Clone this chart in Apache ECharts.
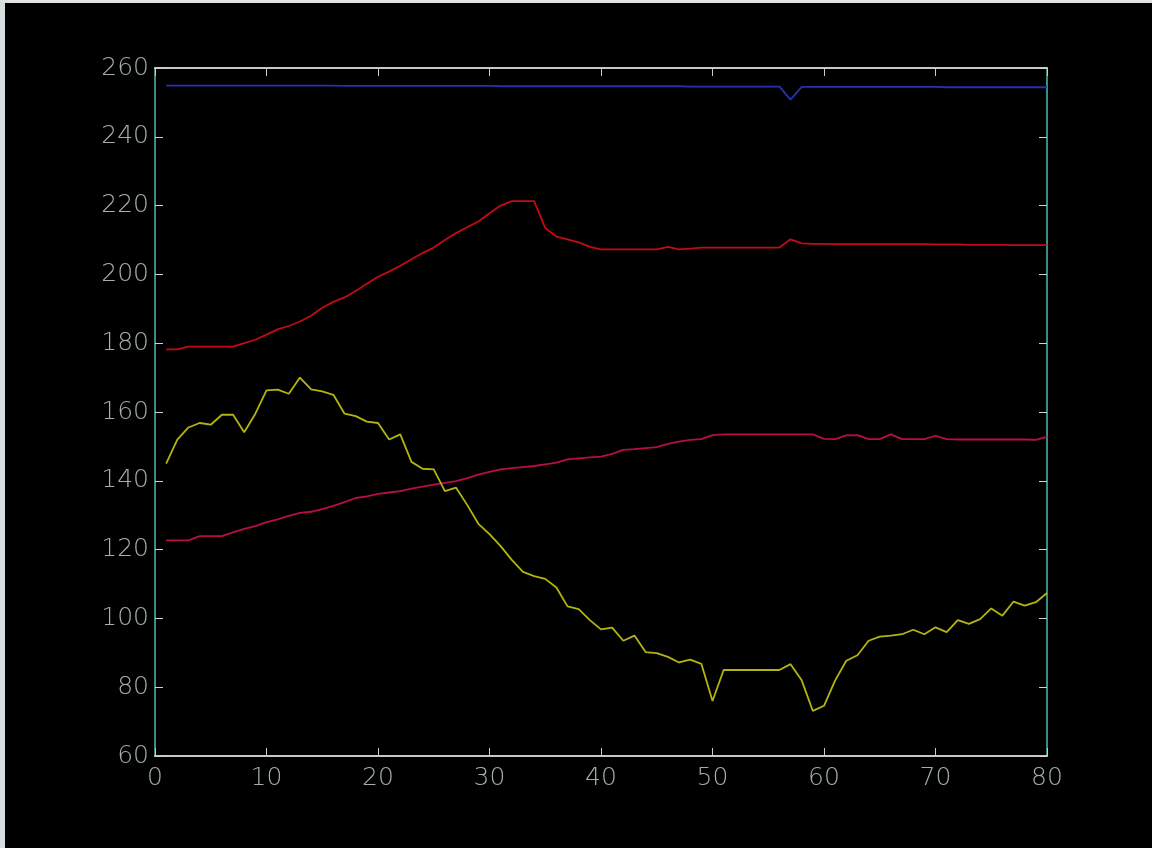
<!DOCTYPE html>
<html>
<head>
<meta charset="utf-8">
<script src="https://cdn.jsdelivr.net/npm/echarts@6/dist/echarts.min.js"></script>
<style>
html,body{margin:0;padding:0;background:#dfe2e4;width:1152px;height:848px;overflow:hidden;}
#c{position:absolute;left:0;top:0;width:1147px;height:845px;border-left:5px solid #d8dde0;border-top:3px solid #e2e2e2;background:#000;}
</style>
</head>
<body>
<div id="c"></div>
<script>
var xs = [1,2,3,4,5,6,7,8,9,10,11,12,13,14,15,16,17,18,19,20,21,22,23,24,25,26,27,28,29,30,31,32,33,34,35,36,37,38,39,40,41,42,43,44,45,46,47,48,49,50,51,52,53,54,55,56,57,58,59,60,61,62,63,64,65,66,67,68,69,70,71,72,73,74,75,76,77,78,79,80];

var blueVals = [254.9,254.9,254.9,254.9,254.9,254.9,254.9,254.9,254.9,254.9,254.9,254.9,254.9,254.9,254.9,254.9,254.8,254.8,254.8,254.8,
254.8,254.8,254.8,254.8,254.8,254.8,254.8,254.8,254.8,254.8,254.7,254.7,254.7,254.7,254.7,254.7,254.7,254.7,254.7,254.7,
254.7,254.7,254.7,254.7,254.7,254.7,254.7,254.6,254.6,254.6,254.6,254.6,254.6,254.6,254.6,254.6,250.8,254.5,254.5,254.5,
254.5,254.5,254.5,254.5,254.5,254.5,254.5,254.5,254.5,254.5,254.4,254.4,254.4,254.4,254.4,254.4,254.4,254.4,254.4,254.4];

var redUpperVals = [178.2,178.2,179,179,179,179,179,180,181,182.5,
184,185,186.3,188,190.3,192,193.3,195.2,197.3,199.3,
200.8,202.5,204.4,206.2,207.8,210,212,213.7,215.4,217.8,
220,221.3,221.3,221.3,213.5,211,210.2,209.3,208,207.3,
207.3,207.3,207.3,207.3,207.3,208,207.3,207.5,207.8,207.8,
207.8,207.8,207.8,207.8,207.8,207.8,210.2,209,208.9,208.9,
208.8,208.8,208.8,208.8,208.8,208.8,208.8,208.8,208.8,208.7,
208.7,208.7,208.6,208.6,208.6,208.6,208.5,208.5,208.5,208.5];

var redLowerVals = [122.7,122.7,122.7,123.9,123.9,123.9,125,126,126.8,128,
128.8,129.8,130.7,131,131.8,132.7,133.8,135,135.5,136.2,
136.6,137,137.7,138.3,138.9,139.4,139.9,140.8,141.8,142.6,
143.3,143.7,144,144.3,144.8,145.3,146.2,146.5,146.8,147,
147.8,149,149.2,149.5,149.8,150.7,151.4,151.9,152.1,153.3,
153.5,153.5,153.5,153.5,153.5,153.5,153.5,153.5,153.5,152.2,
152.1,153.2,153.3,152.1,152.1,153.5,152.1,152.1,152.1,153.1,
152.1,152,152,152,152,152,152,152,151.9,152.8];

var yellowVals = [145,152,155.5,156.8,156.3,159.2,159.2,154.1,159.5,166.3,
166.5,165.3,170,166.6,166,165,159.5,158.8,157.2,156.8,
152,153.5,145.5,143.5,143.3,137,138,133,127.5,124.5,
121,117,113.5,112.3,111.5,109,103.5,102.7,99.5,96.8,
97.3,93.5,95,90.2,89.9,88.8,87.2,88,86.8,76,
85,85,85,85,85,85,86.7,82,73.1,74.6,
82,87.7,89.3,93.5,94.7,95,95.4,96.7,95.4,97.4,
96,99.5,98.4,99.8,102.9,100.8,104.9,103.7,104.7,107.4];

var xTicks = [0,10,20,30,40,50,60,70,80];
var yTicks = [60,80,100,120,140,160,180,200,220,240,260];

function pairs(vals){ return xs.map(function(x,i){ return [x, vals[i]]; }); }

var chart = echarts.init(document.getElementById('c'), null, {renderer:'canvas'});
var labelStyle = {color:'#a4b0aa', fontFamily:'DejaVu Sans', fontWeight:200, fontSize:25};
function mkLine(name, vals, color){
  return {name:name, type:'line', data:pairs(vals), showSymbol:false, symbol:'none',
    lineStyle:{color:color, width:1.8}, animation:false, xAxisIndex:0, yAxisIndex:0};
}
chart.setOption({
  backgroundColor:'#000',
  animation:false,
  grid:{left:150, top:65, right:105, bottom:92, containLabel:false},
  xAxis:[
    {type:'value', min:xTicks[0], max:xTicks[xTicks.length-1], interval:10, position:'bottom',
     axisLine:{show:true, lineStyle:{color:'#c8c8c8', width:2}},
     axisTick:{show:true, inside:true, length:8, lineStyle:{color:'#c8c8c8', width:1}},
     axisLabel:Object.assign({margin:10}, labelStyle),
     splitLine:{show:false}},
    {type:'value', min:xTicks[0], max:xTicks[xTicks.length-1], interval:10, position:'top',
     axisLine:{show:true, onZero:false, lineStyle:{color:'#c8c8c8', width:2}},
     axisTick:{show:true, inside:true, length:8, lineStyle:{color:'#c8c8c8', width:1}},
     axisLabel:{show:false}, splitLine:{show:false}}
  ],
  yAxis:[
    {type:'value', min:yTicks[0], max:yTicks[yTicks.length-1], interval:20, position:'left',
     axisLine:{show:true, lineStyle:{color:'#3c8c84', width:2}},
     axisTick:{show:true, inside:true, length:8, lineStyle:{color:'#d0d0d0', width:1}},
     axisLabel:Object.assign({margin:6}, labelStyle),
     splitLine:{show:false}},
    {type:'value', min:yTicks[0], max:yTicks[yTicks.length-1], interval:20, position:'right',
     axisLine:{show:true, onZero:false, lineStyle:{color:'#3c8c84', width:2}},
     axisTick:{show:true, inside:true, length:8, lineStyle:{color:'#d0d0d0', width:1}},
     axisLabel:{show:false}, splitLine:{show:false}}
  ],
  series:[
    mkLine('blue', blueVals, '#2432b0'),
    mkLine('redUpper', redUpperVals, '#c40a14'),
    mkLine('redLower', redLowerVals, '#b80e46'),
    mkLine('yellow', yellowVals, '#b4b410')
  ]
});
</script>
</body>
</html>
